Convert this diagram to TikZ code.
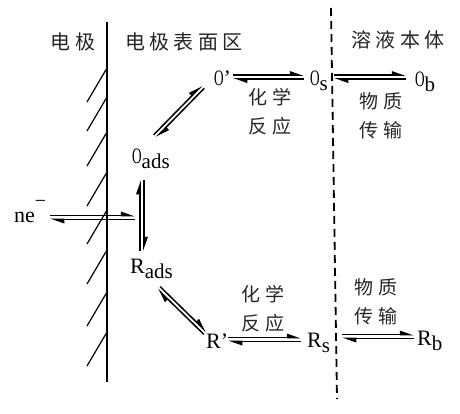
\documentclass[tikz,border=0pt]{standalone}
\usepackage{fontspec}
\usetikzlibrary{arrows.meta,calc}
\newfontfamily\cjk[LetterSpace=22]{Noto Sans CJK SC}
\newfontfamily\latn{Liberation Serif}
\tikzset{
  zh/.style={font=\cjk\fontsize{19}{29}\selectfont, inner sep=0pt, align=center, text=black!85},
  zhh/.style={font=\cjk\fontsize{20}{29}\selectfont, inner sep=0pt, align=center, text=black!85},
  chem/.style={font=\latn\fontsize{22}{22}\selectfont, inner sep=0pt, anchor=base west},
  fwd/.style={line width=1.5pt, -{Triangle[harpoon,length=12pt,width=8pt]}},
  bwd/.style={line width=1.5pt, {Triangle[harpoon,length=12pt,width=8pt]}-},
  hatchline/.style={line width=1.2pt},
  electrode/.style={line width=2pt},
  boundary/.style={line width=1.8pt, dash pattern=on 8pt off 5pt},
}
\newcommand{\sub}[1]{\raisebox{-5.5pt}{\fontsize{21}{21}\selectfont #1}}
\newcommand{\Ox}{\scalebox{0.6}[1]{O}}
\newcommand{\eqarrow}[2]{%
  \draw[fwd] ($(#1)!1.8pt!90:(#2)$) -- ($(#2)!1.8pt!-90:(#1)$);
  \draw[bwd] ($(#1)!1.8pt!-90:(#2)$) -- ($(#2)!1.8pt!90:(#1)$);
}
\begin{document}
\begin{tikzpicture}[x=1pt,y=-1pt]
\useasboundingbox[fill=white] (0,0) rectangle (460,413);
% electrode
\draw[electrode] (107,22) -- (107,382);
\foreach \t in {68,97,132,172,210,250,292,332}
  \draw[hatchline] (107,\t) -- (87,\t+34);
% boundary
\draw[boundary] (331,8) -- (337,399);
% headers
\node[zhh] (hdA) at (73,42) {电极};
\node[zhh] (hdB) at (184,42) {电极表面区};
\node[zhh] (hdC) at (398,40) {溶液本体};
% species
\node[chem] (Op) at (214,85) {\Ox’};
\node[chem] (Os) at (310,85) {\Ox\sub{s}};
\node[chem] (Ob) at (415,86) {\Ox\sub{b}};
\node[chem] (Oads) at (132,163) {\Ox\sub{ads}};
\node[chem] (ne) at (14,222) {ne\raisebox{15pt}{\fontsize{20}{20}\selectfont −}};
\node[chem] (Rads) at (130,273) {R\sub{ads}};
\node[chem] (Rp) at (206,348) {R’};
\node[chem] (Rs) at (307,347) {R\sub{s}};
\node[chem] (Rb) at (417,345) {R\sub{b}};
% process labels
\node[zh] (l1) at (270,112) {化学\\反应};
\node[zh] (l2) at (381,116) {物质\\传输};
\node[zh] (l3) at (263,309) {化学\\反应};
\node[zh] (l4) at (376,302) {物质\\传输};
% arrow end points
\coordinate (c1a) at (233,77);   \coordinate (c1b) at (304,77);
\coordinate (c2a) at (334,77);   \coordinate (c2b) at (406,77);
\coordinate (c3a) at (155,136);  \coordinate (c3b) at (203,87);
\coordinate (c4a) at (142,180);  \coordinate (c4b) at (142,251);
\coordinate (c5a) at (50,217.5); \coordinate (c5b) at (135,217.5);
\coordinate (c6a) at (159,288);  \coordinate (c6b) at (205,333);
\coordinate (c7a) at (228,339.5);\coordinate (c7b) at (301,339.5);
\coordinate (c8a) at (342,336.5);\coordinate (c8b) at (414,336.5);
\eqarrow{c1a}{c1b}
\eqarrow{c2a}{c2b}
\eqarrow{c3a}{c3b}
\eqarrow{c4a}{c4b}
\eqarrow{c5a}{c5b}
\eqarrow{c6a}{c6b}
\eqarrow{c7a}{c7b}
\eqarrow{c8a}{c8b}
\end{tikzpicture}
\end{document}
